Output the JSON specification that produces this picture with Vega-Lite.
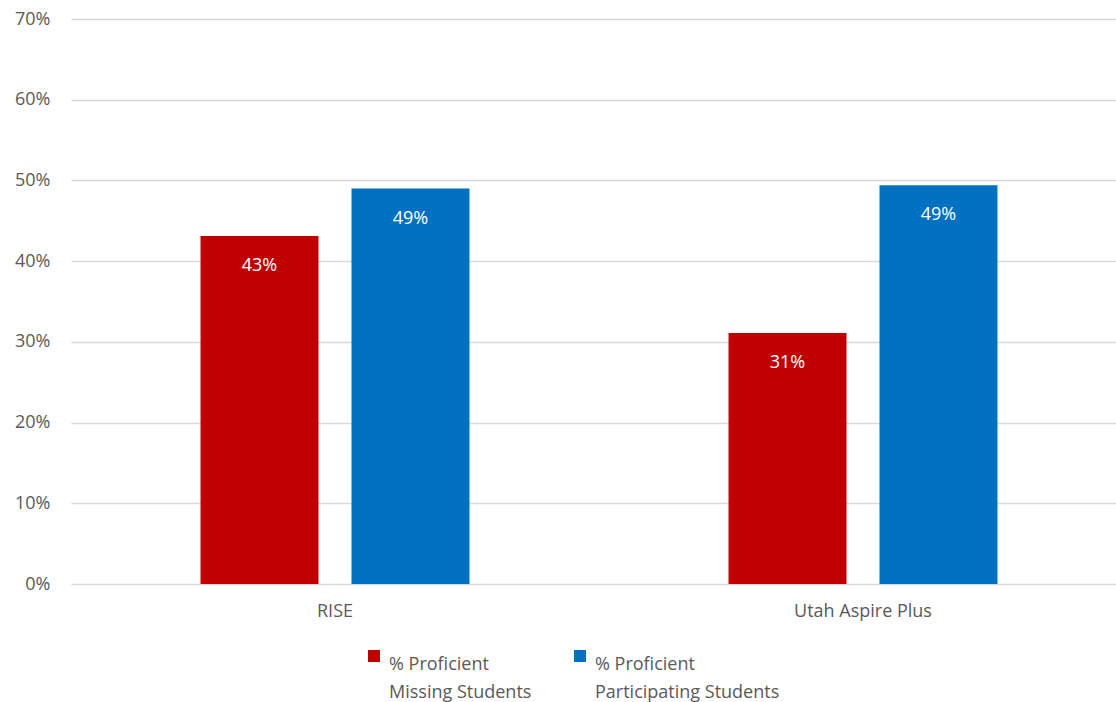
{
  "$schema": "https://vega.github.io/schema/vega-lite/v6.json",
  "width": 1045,
  "height": 565,
  "autosize": {"type": "none"},
  "padding": {"left": 71, "top": 19, "right": 0, "bottom": 118},
  "background": "white",
  "config": {
    "font": "Open Sans",
    "view": {"stroke": null},
    "axis": {"labelColor": "#595959", "labelFontSize": 18, "labelFont": "Open Sans"},
    "legend": {"labelColor": "#595959", "labelFontSize": 18, "labelFont": "Open Sans"},
    "style": {"guide-label": {"lineHeight": 28}}
  },
  "data": {
    "values": [
      {"test": "RISE", "series": "% Proficient|Missing Students", "value": 0.431},
      {"test": "RISE", "series": "% Proficient|Participating Students", "value": 0.490},
      {"test": "Utah Aspire Plus", "series": "% Proficient|Missing Students", "value": 0.311},
      {"test": "Utah Aspire Plus", "series": "% Proficient|Participating Students", "value": 0.494}
    ]
  },
  "encoding": {
    "x": {
      "field": "test", "type": "nominal", "title": null,
      "scale": {"range": [0, 1056], "paddingInner": 0, "paddingOuter": 0},
      "axis": {"labelAngle": 0, "ticks": false, "domain": false, "labelPadding": 18, "grid": false}
    },
    "xOffset": {
      "field": "series", "type": "nominal",
      "scale": {"paddingInner": 0.2185, "paddingOuter": 0.858}
    },
    "y": {
      "field": "value", "type": "quantitative", "title": null,
      "scale": {"domain": [0, 0.7], "nice": false},
      "axis": {"format": ".0%", "values": [0, 0.1, 0.2, 0.3, 0.4, 0.5, 0.6, 0.7], "ticks": false, "domain": false, "labelPadding": 21, "gridColor": "#D9D9D9", "gridWidth": 1.5}
    }
  },
  "layer": [
    {
      "mark": {"type": "bar"},
      "encoding": {
        "color": {
          "field": "series", "type": "nominal",
          "scale": {"domain": ["% Proficient|Missing Students", "% Proficient|Participating Students"], "range": ["#C00000", "#0070C0"]},
          "legend": {
            "title": null, "orient": "none", "legendX": 294, "legendY": 628, "direction": "horizontal",
            "symbolType": "square", "symbolSize": 144, "symbolStrokeWidth": 0,
            "labelExpr": "split(datum.label, '|')", "labelLimit": 400, "labelBaseline": "top",
            "columnPadding": 39, "labelOffset": 6
          }
        }
      }
    },
    {
      "mark": {"type": "text", "color": "white", "fontSize": 18, "baseline": "top", "dy": 21, "font": "Open Sans"},
      "encoding": {
        "text": {"field": "value", "type": "quantitative", "format": ".0%"}
      }
    }
  ]
}
